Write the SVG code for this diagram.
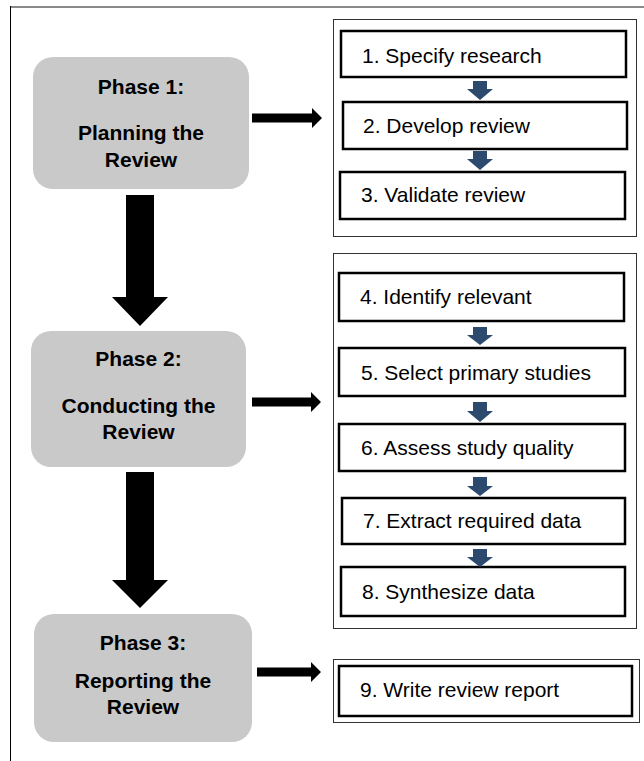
<svg xmlns="http://www.w3.org/2000/svg" width="644" height="761" viewBox="0 0 644 761">
<style>
.phase{fill:#c9c9c9;stroke:none}
.pt{font-family:"Liberation Sans",Arial,sans-serif;font-weight:bold;font-size:21px;fill:#000;text-anchor:middle}
.grp{fill:#fff;stroke:#333;stroke-width:1}
.step{fill:#fff;stroke:#000;stroke-width:2.5}
.st{font-family:"Liberation Sans",Arial,sans-serif;font-size:21px;fill:#000}
.big{fill:#000}
.sm{fill:#2c4a6e}
</style>
<rect x="0" y="0" width="644" height="761" fill="#fff"/>
<line x1="10" y1="7" x2="644" y2="7" stroke="#8a8a8a" stroke-width="2"/>
<line x1="10.5" y1="6" x2="10.5" y2="761" stroke="#000" stroke-width="1"/>

<g id="phase1">
<rect class="phase" x="33" y="57" width="216" height="132" rx="20"/>
<text class="pt" x="141" y="94">Phase 1:</text>
<text class="pt" x="141" y="140">Planning the</text>
<text class="pt" x="141" y="167">Review</text>
</g>
<g id="phase2">
<rect class="phase" x="31" y="331" width="215" height="136" rx="20"/>
<text class="pt" x="138.5" y="366">Phase 2:</text>
<text class="pt" x="138.5" y="413">Conducting the</text>
<text class="pt" x="138.5" y="439">Review</text>
</g>
<g id="phase3">
<rect class="phase" x="34" y="614" width="218" height="128" rx="20"/>
<text class="pt" x="143" y="650">Phase 3:</text>
<text class="pt" x="143" y="688">Reporting the</text>
<text class="pt" x="143" y="714">Review</text>
</g>

<g id="group1">
<rect class="grp" x="333.5" y="19.5" width="303" height="217"/>
</g>
<g id="group2">
<rect class="grp" x="333.5" y="253.5" width="303" height="375"/>
</g>
<g id="group3">
<rect class="grp" x="333.5" y="659.5" width="306" height="63"/>
</g>

<g id="step1"><rect class="step" x="341" y="31" width="285" height="46"/><text class="st" x="362" y="63">1. Specify research</text></g>
<g id="step2"><rect class="step" x="343" y="102" width="284" height="47"/><text class="st" x="363" y="133">2. Develop review</text></g>
<g id="step3"><rect class="step" x="340" y="172" width="285" height="47"/><text class="st" x="361" y="202">3. Validate review</text></g>
<g id="step4"><rect class="step" x="339" y="273" width="285" height="48"/><text class="st" x="360" y="304">4. Identify relevant</text></g>
<g id="step5"><rect class="step" x="339" y="348" width="286" height="48"/><text class="st" x="361" y="380">5. Select primary studies</text></g>
<g id="step6"><rect class="step" x="339" y="424" width="286" height="47"/><text class="st" x="361" y="455">6. Assess study quality</text></g>
<g id="step7"><rect class="step" x="342" y="498" width="283" height="46"/><text class="st" x="363" y="528">7. Extract required data</text></g>
<g id="step8"><rect class="step" x="341" y="567" width="284" height="49"/><text class="st" x="362" y="599">8. Synthesize data</text></g>
<g id="step9"><rect class="step" x="339" y="666" width="293" height="50"/><text class="st" x="360" y="697">9. Write review report</text></g>

<g id="connectors">
<path class="big" d="M126,195 H154 V297 H168 L140,326 L112,297 H126 Z"/>
<path class="big" d="M126,472 H154 V580 H168 L140,608 L112,580 H126 Z"/>
<path class="big" d="M252,113.5 H312 V108 L322,118 L312,128 V122.5 H252 Z"/>
<path class="big" d="M252,397.5 H311 V392 L321,402 L311,412 V406.5 H252 Z"/>
<path class="big" d="M257,667.5 H311 V662 L321,672 L311,682 V676.5 H257 Z"/>
<path class="sm" d="M473,81 H487 V89 H493 L480,100 L467,89 H473 Z"/>
<path class="sm" d="M473,151 H487 V159 H493 L480,170 L467,159 H473 Z"/>
<path class="sm" d="M473,327 H487 V335 H493 L480,345 L467,335 H473 Z"/>
<path class="sm" d="M473,402 H487 V411 H493 L480,422 L467,411 H473 Z"/>
<path class="sm" d="M473,477 H487 V486 H493 L480,496 L467,486 H473 Z"/>
<path class="sm" d="M473,549 H487 V557 H493 L480,567 L467,557 H473 Z"/>
</g>
</svg>
